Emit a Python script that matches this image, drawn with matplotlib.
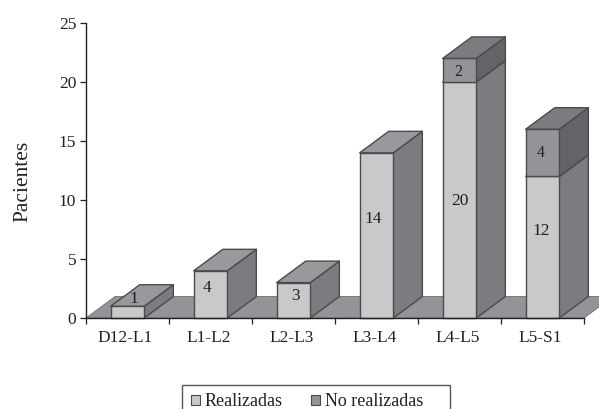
import matplotlib
matplotlib.use('Agg')
import matplotlib.pyplot as plt
from matplotlib.patches import Polygon, Rectangle

plt.rcParams['font.family'] = ['Liberation Serif', 'DejaVu Serif']

# data
niveles = ['D12-L1', 'L1-L2', 'L2-L3', 'L3-L4', 'L4-L5', 'L5-S1']
realizadas = [1, 4, 3, 14, 20, 12]
no_realizadas = [0, 0, 0, 0, 2, 4]
yticks = [0, 5, 10, 15, 20, 25]

# label nudges, the original labels are not centred on the segments
nudge_real = [(0.08, 1.1), (-0.04, 0.5), (0.02, 0.37), (-0.04, 1.4), (0.0, -0.1), (-0.02, 1.37)]
nudge_no = [(0, 0), (0, 0), (0, 0), (0, 0), (-0.01, -0.15), (-0.02, 0.0)]

# 3D look, in data units
bar_w = 0.405
dx = 0.35
dy = 1.82
edge = '#4b4b4e'

W, H = 599, 409
fig = plt.figure(figsize=(W / 100, H / 100), dpi=100)
ax = fig.add_axes([86 / W, 1 - 318 / H, (584 - 86) / W, (318 - 23) / H])
ax.set_xlim(0, 6)
ax.set_ylim(0, 25)


def poly(pts, color, z):
    ax.add_patch(Polygon(pts, closed=True, facecolor=color, edgecolor=edge,
                         linewidth=1.0, clip_on=False, zorder=z, joinstyle='round'))


def segment(x0, y0, y1, front, top, side, z):
    x1 = x0 + bar_w
    poly([(x1, y0), (x1 + dx, y0 + dy), (x1 + dx, y1 + dy), (x1, y1)], side, z)
    poly([(x0, y0), (x1, y0), (x1, y1), (x0, y1)], front, z)
    poly([(x0, y1), (x1, y1), (x1 + dx, y1 + dy), (x0 + dx, y1 + dy)], top, z)


# floor
ax.add_patch(Polygon([(0, 0), (6, 0), (6 + dx, dy), (dx, dy)], closed=True,
                     facecolor='#939497', edgecolor='#6d6e71', linewidth=0.6,
                     clip_on=False, zorder=1))

for i, nivel in enumerate(niveles):
    x0 = i + 0.5 - bar_w / 2
    r = realizadas[i]
    n = no_realizadas[i]
    z = 2 + i
    segment(x0, 0, r, '#c8c9cb', '#98999c', '#7b7c80', z)
    ax.text(i + 0.5 + nudge_real[i][0], r / 2 + nudge_real[i][1], str(r),
            ha='center', va='center', fontsize=12.5, color='#231f20', zorder=20)
    if n > 0:
        segment(x0, r, r + n, '#939497', '#7b7c80', '#636467', z)
        ax.text(i + 0.5 + nudge_no[i][0], r + n / 2 + nudge_no[i][1], str(n),
                ha='center', va='center', fontsize=11.5, color='#231f20', zorder=20)

# axes
for s in ['top', 'right']:
    ax.spines[s].set_visible(False)
for s in ['left', 'bottom']:
    ax.spines[s].set_color('#231f20')
    ax.spines[s].set_linewidth(1.0)
    ax.spines[s].set_zorder(15)
ax.patch.set_visible(False)
ax.set_yticks(yticks)
ax.set_xticks(range(7))
ax.set_xticklabels([])
ax.set_xticks([i + 0.475 for i in range(6)], minor=True)
ax.set_xticklabels(niveles, minor=True)
ax.tick_params(axis='x', which='minor', length=0, pad=9, labelsize=12.5, labelcolor='#231f20')
ax.tick_params(axis='x', which='major', length=4, width=0.9, color='#231f20')
ax.tick_params(axis='y', length=4, width=0.9, pad=3, labelsize=12.5, color='#231f20', labelcolor='#231f20')
ax.set_ylabel('Pacientes', fontsize=15.5, color='#231f20', labelpad=19, y=0.464)

# legend, cut by the bottom of the picture like the source
fig.add_artist(Rectangle((182 / W, 1 - 420 / H), 268 / W, 35 / H, transform=fig.transFigure,
                         facecolor='white', edgecolor='#55565a', linewidth=1.0))
handles = [Rectangle((0, 0), 1, 1, facecolor='#c8c9cb', edgecolor=edge, linewidth=0.8),
           Rectangle((0, 0), 1, 1, facecolor='#939497', edgecolor=edge, linewidth=0.8)]
fig.legend(handles, ['Realizadas', 'No realizadas'], ncol=2, frameon=False,
           loc='center left', bbox_to_anchor=(191 / W, 1 - 402 / H), fontsize=13,
           handlelength=0.5, handleheight=0.5, handletextpad=0.25, columnspacing=1.6,
           borderpad=0, borderaxespad=0, labelcolor='#231f20')

fig.savefig('out.png', dpi=100)
